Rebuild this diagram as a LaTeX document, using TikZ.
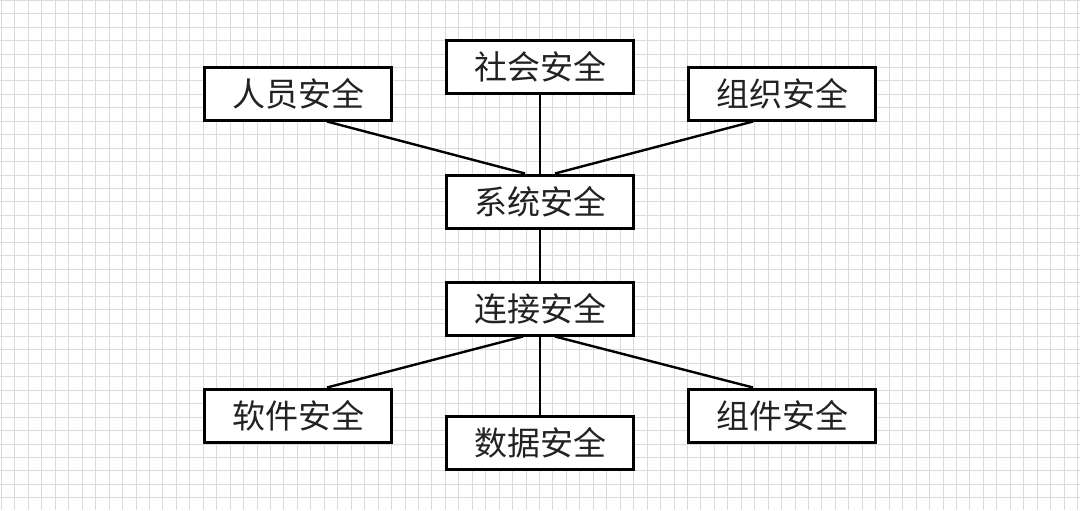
\documentclass[tikz,border=0pt]{standalone}
\usepackage{fontspec}
\newfontfamily\cjk{Noto Sans CJK SC}
\usetikzlibrary{positioning}

\definecolor{gridgray}{HTML}{DADADA}
\definecolor{inkgray}{HTML}{222222}

\begin{document}
\begin{tikzpicture}[
    x=0.5pt, y=-0.5pt,
    secbox/.style={rectangle, draw=black, line width=1.5pt, fill=white, minimum width=93.5pt, minimum height=26.5pt, inner sep=0pt, text=inkgray, font=\cjk\fontsize{16.5}{20}\selectfont},
    link/.style={draw=black, line width=1.2pt},
    gridline/.style={draw=gridgray, line width=0.5pt}
]
    \useasboundingbox (0,0) rectangle (1080,510);
    \fill[white] (0,0) rectangle (1080,510);
    % background grid
    \foreach \i in {0,...,80} {\draw[gridline] (1.5+\i*13.45,0) -- (1.5+\i*13.45,510);}
    \foreach \j in {0,...,37} {\draw[gridline] (0,0.2+\j*13.45) -- (1080,0.2+\j*13.45);}

    \node[secbox] (sys) at (540,201.5) {系统安全};
    \node[secbox, above=39.5pt of sys] (soc) {社会安全};
    \node[secbox, above left=26pt and 26pt of sys] (pers) {人员安全};
    \node[secbox, above right=26pt and 26pt of sys] (org) {组织安全};
    \node[secbox, below=25.5pt of sys] (conn) {连接安全};
    \node[secbox, below=39pt of conn] (data) {数据安全};
    \node[secbox, below left=25.5pt and 26pt of conn] (soft) {软件安全};
    \node[secbox, below right=25.5pt and 26pt of conn] (comp) {组件安全};

    \draw[link] (soc) -- (sys);
    \draw[link] ([xshift=14.5pt]pers.south) -- ([xshift=-7.5pt]sys.north);
    \draw[link] ([xshift=-14.5pt]org.south) -- ([xshift=7.5pt]sys.north);
    \draw[link] (sys) -- (conn);
    \draw[link] (conn) -- (data);
    \draw[link] ([xshift=-8.5pt]conn.south) -- ([xshift=14.5pt]soft.north);
    \draw[link] ([xshift=7.5pt]conn.south) -- ([xshift=-14.5pt]comp.north);
\end{tikzpicture}
\end{document}
